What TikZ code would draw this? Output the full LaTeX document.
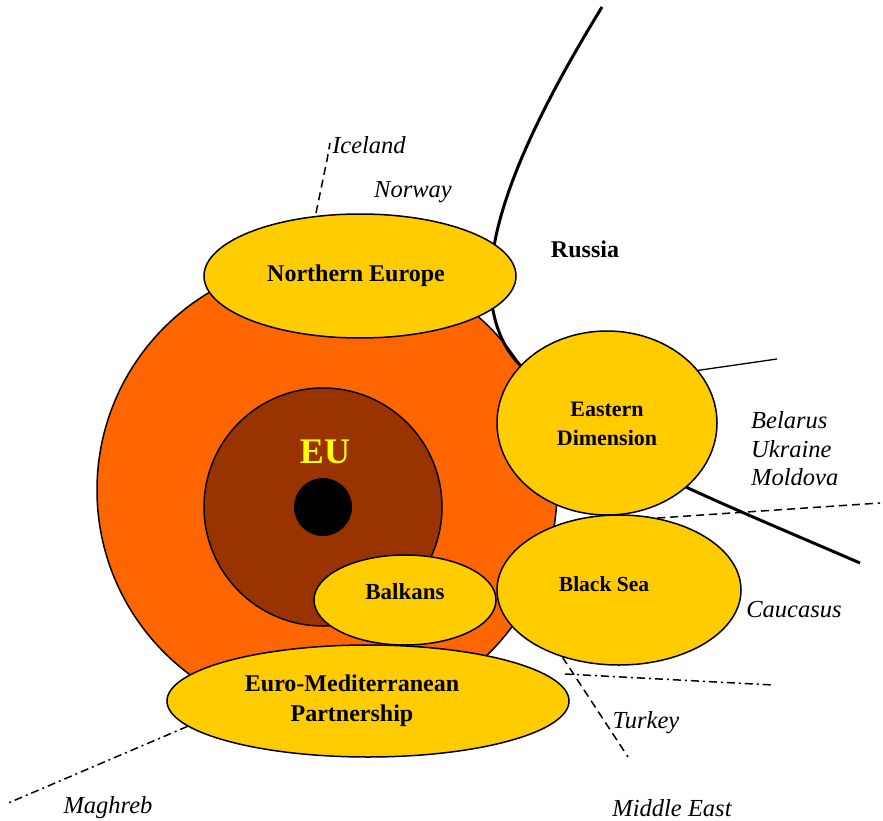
\documentclass[tikz,border=0pt]{standalone}
\usepackage{fontspec}
\setmainfont{Liberation Serif}
\usetikzlibrary{shapes.geometric}
\definecolor{orng}{HTML}{FF6600}
\definecolor{brwn}{HTML}{993300}
\definecolor{yel}{HTML}{FFCC00}
\definecolor{eutext}{HTML}{FFFF00}
\begin{document}
\begin{tikzpicture}[x=1pt,y=-1pt,
  region/.style={ellipse, draw=black, line width=1.5pt, fill=yel, inner sep=0pt, align=center},
  lbl/.style={font=\fontsize{24.5}{29}\selectfont\itshape, inner sep=0pt},
  blbl/.style={inner sep=0pt, align=center},
  dashline/.style={line width=1.5pt, dash pattern=on 8pt off 5pt},
  dotdash/.style={line width=1.5pt, dash pattern=on 8pt off 4pt on 2pt off 4pt},
  thinline/.style={line width=1.3pt}]
\useasboundingbox (0,0) rectangle (883,821);
% big orange circle
\node[circle, fill=orng, draw=black, line width=1.5pt, minimum size=460pt, inner sep=0pt] (wider) at (327,490) {};
% Russia border
\coordinate (rtop) at (602,7);
\coordinate (rend) at (860,563);
\draw[line width=3pt] (rtop) .. controls (545,100) and (500,190) .. (492,260)
  .. controls (486,310) and (500,345) .. (520,365)
  .. controls (560,405) and (620,455) .. (688,488)
  .. controls (740,512) and (800,537) .. (rend);
% EU
\node[circle, fill=brwn, draw=black, line width=1.5pt, minimum size=238pt, inner sep=0pt] (eu) at (323,507) {};
\node[circle, fill=black, minimum size=58pt, inner sep=0pt] (core) at (323,507) {};
\node[font=\fontsize{36}{40}\selectfont\bfseries, text=eutext, inner sep=0pt] (eulbl) at (325,452) {EU};
% regions
\node[region, minimum width=312pt, minimum height=124pt] (ne) at (360,276) {};
\node[blbl, font=\fontsize{24}{29}\selectfont\bfseries] (nelbl) at (356,276) {Northern Europe};
\node[region, minimum width=220pt, minimum height=184pt] (ed) at (607,423) {};
\node[blbl, font=\fontsize{22}{29}\selectfont\bfseries] (edlbl) at (607,424) {Eastern\\Dimension};
\node[region, minimum width=244pt, minimum height=150pt] (bs) at (619,590) {};
\node[blbl, font=\fontsize{21.5}{26}\selectfont\bfseries] (bslbl) at (604,584) {Black Sea};
\node[region, minimum width=182pt, minimum height=90pt] (bk) at (405,600) {};
\node[blbl, font=\fontsize{23}{26}\selectfont\bfseries] (bklbl) at (405,592) {Balkans};
\node[region, minimum width=402pt, minimum height=112pt] (em) at (368,701) {};
\node[blbl, font=\fontsize{24}{30}\selectfont\bfseries] (emlbl) at (352,701) {Euro-Mediterranean\\Partnership};
% connector end points
\coordinate (icestart) at (316,213);
\coordinate (icemid) at (327,160);
\coordinate (iceend) at (330,143);
\coordinate (belend) at (777,359);
\coordinate (bsend) at (880,503);
\coordinate (tuend) at (628,757);
\coordinate (mestart) at (565,674);
\coordinate (meend) at (773,685);
\coordinate (maend) at (6,804);
% connectors
\draw[dashline] (icestart) -- (icemid) -- (iceend);
\draw[thinline] (ed.30) -- (belend);
\draw[dashline] (bs.62) -- (bsend);
\draw[dashline] (bs.230) -- (tuend);
\draw[dotdash] (mestart) -- (meend);
\draw[dotdash] (em.188) -- (maend);
% labels
\node[lbl] (iceland) at (369,145) {Iceland};
\node[lbl] (norway) at (413,192) {Norway};
\node[blbl, font=\fontsize{24}{29}\selectfont\bfseries] (russia) at (585,249) {Russia};
\node[lbl, anchor=west, align=left, font=\fontsize{24.5}{28.5}\selectfont\itshape] (bum) at (751,449) {Belarus\\Ukraine\\Moldova};
\node[lbl] (cauc) at (794,610) {Caucasus};
\node[lbl] (turkey) at (646,723) {Turkey};
\node[lbl] (mideast) at (672,808) {Middle East};
\node[lbl] (maghreb) at (108,808) {Maghreb};
\end{tikzpicture}
\end{document}
